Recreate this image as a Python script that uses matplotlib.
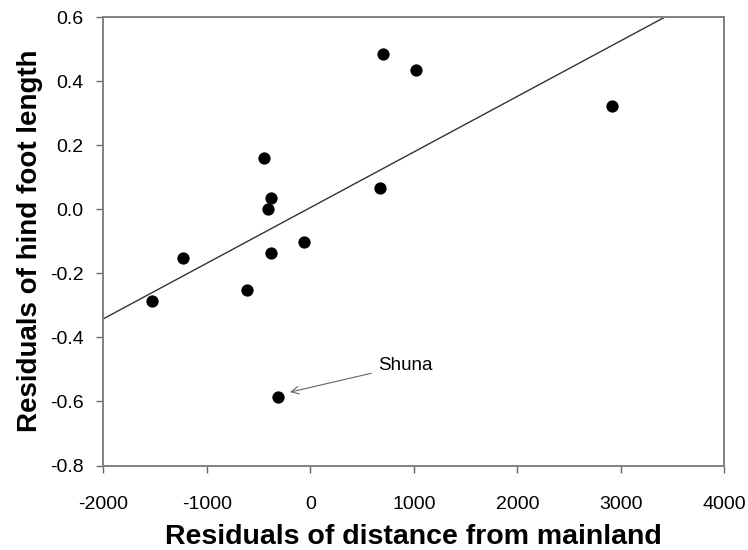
import matplotlib
matplotlib.use("Agg")
import matplotlib.pyplot as plt
import numpy as np

plt.rcParams['font.family'] = ['Liberation Sans', 'DejaVu Sans']

# Residuals
dist_resid = [-1527, -1230, -612, -450, -380, -412, -380, -58, 676, 702, 1021, 2912, -309]
foot_resid = [-0.287, -0.151, -0.251, 0.159, 0.034, 0.001, -0.1375, -0.101, 0.065, 0.484, 0.434, 0.322, -0.587]

# regression line
fit_slope = 1.736e-4
fit_intercept = 0.005

# outlier label
label_text = "Shuna"
label_xy = (654, -0.4875)
label_point = (-196, -0.571)

x_ticks = [-2000, -1000, 0, 1000, 2000, 3000, 4000]
y_ticks = [-0.8, -0.6, -0.4, -0.2, 0.0, 0.2, 0.4, 0.6]

fig = plt.figure(figsize=(7.48, 5.5), dpi=100)
ax = fig.add_axes([103.3 / 748, 1 - 465.5 / 550, (724.3 - 103.3) / 748, (465.5 - 17) / 550])

xs = np.array([-2000, 4000])
ax.plot(xs, fit_slope * xs + fit_intercept, color="#333333", lw=1.0)
ax.scatter(dist_resid, foot_resid, s=78, color="black", zorder=3, linewidths=0)

ax.annotate(label_text, xy=label_point, xytext=label_xy, fontsize=13.5, va="center", ha="left",
            arrowprops=dict(arrowstyle="->", color="#666666", lw=0.8, shrinkB=0, shrinkA=3))

ax.set_xlim(-2000, 4000)
ax.set_ylim(-0.8, 0.6)
ax.set_xticks(x_ticks)
ax.set_yticks(y_ticks)
ax.set_xticklabels([str(t) for t in x_ticks])
ax.set_yticklabels([f"{t:.1f}" for t in y_ticks])
ax.tick_params(direction="out", length=5, width=1, color="#666666", labelsize=14)
ax.tick_params(axis="x", pad=17)
ax.tick_params(axis="y", pad=9)

for sp in ax.spines.values():
    sp.set_color("#808080")
    sp.set_linewidth(1.4)

ax.set_xlabel("Residuals of distance from mainland", fontsize=20.5, fontweight="bold", labelpad=8)
ax.set_ylabel("Residuals of hind foot length", fontsize=20, fontweight="bold", labelpad=5)

fig.savefig("out.png", dpi=100)
